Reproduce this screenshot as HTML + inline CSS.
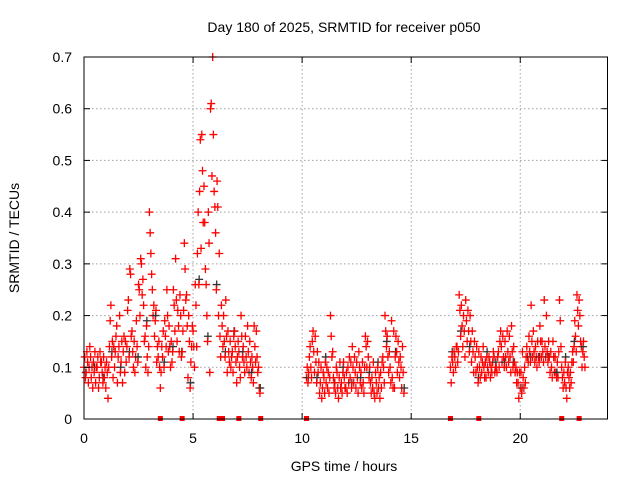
<!DOCTYPE html>
<html><head><meta charset="utf-8"><style>
html,body{margin:0;padding:0;background:#fff}
svg{display:block;font-family:"Liberation Sans",sans-serif}
</style></head><body>
<svg id="chart" width="640" height="480" viewBox="0 0 640 480">
<rect x="0" y="0" width="640" height="480" fill="#fff"/>
<g id="grid"></g>
<g id="marks"></g>
<rect x="84" y="57" width="523.5" height="362" fill="none" stroke="#000" stroke-width="1"/>
<g id="ticks"></g>
<text x="344" y="32" font-size="14" text-anchor="middle">Day 180 of 2025, SRMTID for receiver p050</text>
<text x="344" y="471" font-size="14" text-anchor="middle">GPS time / hours</text>
<text x="19" y="238" font-size="14" text-anchor="middle" transform="rotate(-90 19 238)">SRMTID / TECUs</text>
</svg>
<script>
const xTicks=[0,5,10,15,20];
const yTicks=[0,0.1,0.2,0.3,0.4,0.5,0.6,0.7];
const yTickLabels=["0","0.1","0.2","0.3","0.4","0.5","0.6","0.7"];
const segStarts=[0,10.2,16.8];
const seg1=[[.10,.12,.08],[.09,.13,.11],[.07,.10,.14],[.12,.08,.10],[.06,.11,.09],[.13,.07,.10],[.10,.12,.06],[.08,.13,.11],[.11,.09,.07],[.12,.08,.10],[.06,.11,.09],[.04,.10,.14],[.19,.22,.12],[.15,.08,.14],[.10,.13,.16],[.18,.07,.12],[.14,.20,.09],[.11,.15,.07],[.13,.16,.09],[.15,.11,.14],[.21,.23,.12],[.29,.28,.16],[.17,.13,.10],[.15,.09,.12],[.19,.14,.11],[.26,.25,.20],[.31,.30,.24],[.27,.22,.15],[.16,.10,.18],[.12,.09,.14],[.40,.36,.32],[.28,.25,.20],[.22,.16,.19],[.21,.11,.14],[.12,.15,.10],[.06,.09,.14],[.12,.17,.10],[.19,.16,.14],[.25,.20,.13],[.18,.14,.10],[.15,.11,.13],[.25,.22,.17],[.31,.23,.15],[.21,.18,.13],[.24,.20,.12],[.13,.17,.21],[.34,.29,.23],[.24,.18,.08],[.20,.15,.06],[.11,.14,.18],[.17,.14,.10],[.26,.22,.14],[.32,.40,.26],[.44,.54,.33],[.55,.48,.38],[.45,.38,.29],[.26,.20,.15],[.40,.34,.09],[.60,.61,.47],[.70,.55,.44],[.41,.36,.25],[.46,.41,.20],[.32,.16,.12],[.22,.18,.14],[.20,.15,.12],[.23,.16,.09],[.17,.13,.11],[.15,.10,.12],[.13,.09,.16],[.17,.14,.11],[.07,.12,.15],[.13,.10,.08],[.20,.16,.12],[.14,.11,.09],[.16,.12,.10],[.18,.13,.09],[.15,.11,.08],[.12,.10,.07],[.18,.14,.11],[.17,.12,.09],[.10,.06,.05]];
const seg2=[[.08,.10,.07],[.09,.12,.14],[.10,.08,.15],[.17,.13,.09],[.16,.11,.07],[.13,.09,.11],[.05,.07,.10],[.04,.06,.09],[.08,.05,.11],[.07,.10,.06],[.09,.05,.08],[.20,.16,.12],[.13,.08,.06],[.07,.05,.10],[.09,.06,.04],[.08,.11,.06],[.07,.05,.09],[.11,.08,.06],[.06,.09,.05],[.10,.07,.12],[.08,.11,.06],[.14,.10,.07],[.12,.09,.06],[.11,.08,.05],[.13,.10,.07],[.09,.06,.11],[.07,.05,.10],[.16,.14,.10],[.15,.12,.08],[.10,.07,.05],[.08,.06,.11],[.05,.04,.09],[.07,.05,.10],[.06,.08,.04],[.09,.06,.11],[.12,.10,.07],[.20,.17,.14],[.16,.12,.09],[.13,.10,.07],[.19,.08,.06],[.17,.06,.12],[.16,.13,.09],[.15,.11,.08],[.12,.10,.06],[.14,.09,.05]];
const seg3=[[.10,.07,.12],[.11,.09,.13],[.12,.10,.14],[.14,.11,.13],[.24,.21,.16],[.22,.18,.14],[.20,.17,.12],[.23,.19,.15],[.21,.17,.13],[.20,.15,.11],[.17,.13,.09],[.15,.12,.09],[.14,.10,.07],[.13,.10,.08],[.12,.09,.11],[.14,.10,.08],[.11,.08,.12],[.10,.09,.12],[.11,.08,.10],[.09,.11,.13],[.12,.09,.10],[.10,.09,.12],[.13,.10,.15],[.17,.14,.11],[.16,.12,.10],[.15,.12,.10],[.17,.13,.11],[.16,.12,.09],[.18,.13,.10],[.14,.11,.09],[.10,.07,.09],[.07,.04,.09],[.06,.09,.05],[.13,.08,.06],[.10,.07,.12],[.14,.12,.11],[.16,.13,.11],[.22,.15,.12],[.17,.13,.11],[.14,.12,.10],[.15,.12,.11],[.18,.15,.12],[.15,.13,.11],[.23,.14,.12],[.20,.13,.11],[.15,.12,.09],[.13,.10,.08],[.15,.12,.09],[.12,.09,.08],[.11,.08,.13],[.23,.19,.14],[.10,.08,.06],[.09,.07,.11],[.06,.04,.09],[.10,.08,.06],[.09,.07,.11],[.13,.11,.14],[.19,.16,.13],[.24,.21,.18],[.23,.20,.15],[.14,.10,.13],[.15,.12,.10]];
const flagHours=[3.5,4.5,6.2,6.35,7.1,8.1,10.2,16.8,18.1,21.9,22.7];

const NS="http://www.w3.org/2000/svg";
const X0=84,X1=607.5,Y0=419,Y1=57,XMAX=24,YMAX=0.7;
function sx(h){return X0+(X1-X0)*h/XMAX;}
function sy(v){return Y0-(Y0-Y1)*v/YMAX;}
const grid=document.getElementById('grid'),ticks=document.getElementById('ticks'),marks=document.getElementById('marks');
function mk(tag,attrs,parent){const e=document.createElementNS(NS,tag);for(const k in attrs)e.setAttribute(k,attrs[k]);parent.appendChild(e);return e;}

xTicks.forEach(function(h){
  const x=sx(h);
  if(h>0){const g=mk('line',{x1:x,x2:x,y1:Y1,y2:Y0,stroke:'#a0a0a0','stroke-dasharray':'1.5,2.5'},grid);
  
  }
  const t1=mk('line',{x1:x,x2:x,y1:Y0,y2:Y0-6,stroke:'#000'},ticks);
  
  
  const t2=mk('line',{x1:x,x2:x,y1:Y1,y2:Y1+6,stroke:'#000'},ticks);
  
  
  const l=mk('text',{x:x,y:Y0+24,'font-size':14,'text-anchor':'middle'},ticks);
  l.textContent=String(h);
  
  
});
yTicks.forEach(function(v,i){
  const y=sy(v);
  if(v>0&&v<YMAX){const g=mk('line',{x1:X0,x2:X1,y1:y,y2:y,stroke:'#a0a0a0','stroke-dasharray':'1.5,2.5'},grid);
  
  }
  const t1=mk('line',{x1:X0,x2:X0+6,y1:y,y2:y,stroke:'#000'},ticks);
  
  
  const t2=mk('line',{x1:X1,x2:X1-6,y1:y,y2:y,stroke:'#000'},ticks);
  
  
  const l=mk('text',{x:X0-12,y:y+5,'font-size':14,'text-anchor':'end'},ticks);
  l.textContent=yTickLabels[i];
  
  
});
function plus(h,v,color){
  const x=sx(h),y=sy(v);
  const p=mk('path',{d:'M'+(x-4)+' '+y+'H'+(x+4)+'M'+x+' '+(y-4)+'V'+(y+4),stroke:color,'stroke-width':1.3,fill:'none'},marks);
  
  
}
[seg1,seg2,seg3].forEach(function(seg,si){
  seg.forEach(function(tr,i){
    tr.forEach(function(v,k){
      const h=segStarts[si]+i*0.1+k*0.033;
      if(k===2&&i%4===0)plus(h+0.015,v+0.01,'#333');
      plus(h,v,'#ff0000');
    });
  });
});
flagHours.forEach(function(h){
  const r=mk('rect',{x:sx(h)-2.5,y:Y0-3,width:5,height:5,fill:'#ff0000'},marks);
  
  
});
</script>
</body></html>
